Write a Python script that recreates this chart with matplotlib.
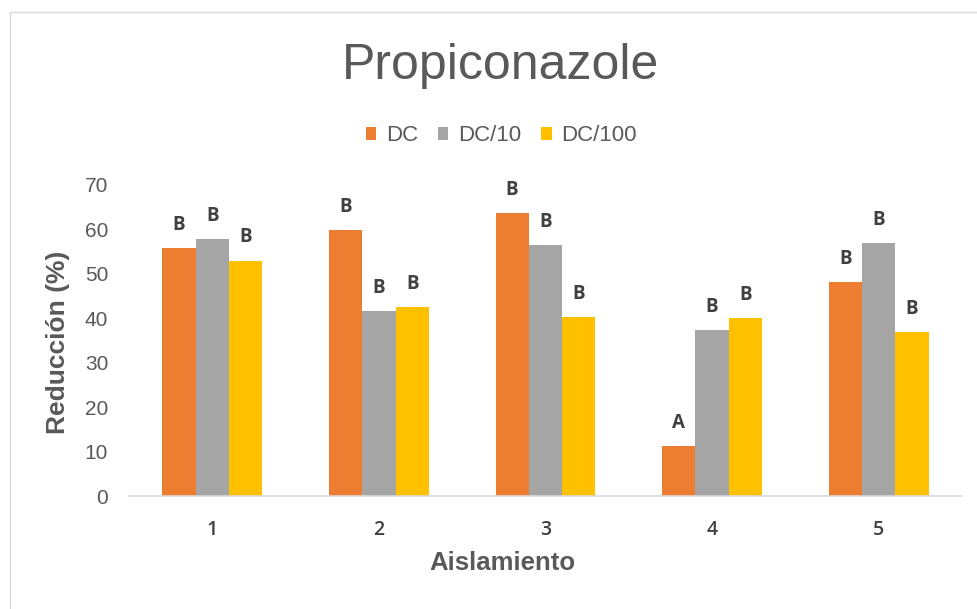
import numpy as np
import matplotlib
matplotlib.use("Agg")
import matplotlib.pyplot as plt
from matplotlib.patches import Rectangle

# Data
aislamientos = ["1", "2", "3", "4", "5"]
series_names = ["DC", "DC/10", "DC/100"]
dc = [55.9, 59.8, 63.7, 11.3, 48.1]
dc10 = [57.8, 41.6, 56.4, 37.3, 56.9]
dc100 = [53.0, 42.5, 40.2, 40.1, 36.9]
letras_dc = ["B", "B", "B", "A", "B"]
letras_dc10 = ["B", "B", "B", "B", "B"]
letras_dc100 = ["B", "B", "B", "B", "B"]
y_ticks = [0, 10, 20, 30, 40, 50, 60, 70]

colors = ["#ED7D31", "#A5A5A5", "#FFC000"]
text_dark = "#595959"
label_dark = "#404040"
main_font = "Liberation Sans"

W, H, DPI = 977, 609, 100
fig = plt.figure(figsize=(W / DPI, H / DPI), dpi=DPI)
fig.patch.set_facecolor("white")

# Light chart-area border
fig.patches.append(Rectangle((10 / W, -0.1), 1.2, (1 - 12 / H) + 0.1,
                             transform=fig.transFigure, fill=False,
                             edgecolor="#d9d9d9", linewidth=1.0))

ax = fig.add_axes([129 / W, (H - 496) / H, 833 / W, (496 - 185) / H])

x = np.arange(len(aislamientos))
width = 0.2
all_series = [dc, dc10, dc100]
all_letters = [letras_dc, letras_dc10, letras_dc100]
handles = []
for i, (vals, letters) in enumerate(zip(all_series, all_letters)):
    pos = x + (i - 1) * width
    bars = ax.bar(pos, vals, width, color=colors[i], label=series_names[i],
                  linewidth=0, zorder=2)
    handles.append(bars)
    for p, v, t in zip(pos, vals, letters):
        ax.annotate(t, (p, v), xytext=(0, 13), textcoords="offset points",
                    ha="center", va="baseline", fontsize=13.5,
                    family="Open Sans", fontweight="bold",
                    color=label_dark)

ax.set_xlim(-0.5, len(aislamientos) - 0.5)
ax.set_ylim(0, 70)
ax.set_yticks(y_ticks)
ax.set_yticklabels([str(t) for t in y_ticks], family=main_font,
                   fontsize=15, color=text_dark)
ax.set_xticks(x)
ax.set_xticklabels(aislamientos, family="Open Sans", fontsize=14,
                   fontweight="semibold", color=label_dark)
ax.tick_params(axis="y", length=0, pad=15)
ax.tick_params(axis="x", length=0, pad=17)

for side in ["top", "right", "left"]:
    ax.spines[side].set_visible(False)
ax.spines["bottom"].set_color("#d9d9d9")
ax.spines["bottom"].set_linewidth(1.2)
ax.spines["bottom"].set_zorder(3)

# Title, legend and axis titles
fig.text(500 / W, 1 - 79 / H, "Propiconazole", ha="center", va="baseline",
         family=main_font, fontsize=36, color=text_dark)

leg = fig.legend(handles=handles, labels=series_names, loc="center",
                 bbox_to_anchor=(501 / W, 1 - 136 / H), ncol=3, frameon=False,
                 prop={"family": main_font, "size": 16},
                 handlelength=0.48, handleheight=0.48, handletextpad=0.42,
                 columnspacing=0.9, borderaxespad=0, borderpad=0)
for t in leg.get_texts():
    t.set_color(text_dark)

fig.text(58 / W, 1 - 342 / H, "Reducción (%)", rotation=90, ha="center",
         va="center", family=main_font, fontsize=19, fontweight="bold",
         color=text_dark)
fig.text(502 / W, 1 - 563 / H, "Aislamiento", ha="center", va="center",
         family=main_font, fontsize=18.5, fontweight="bold", color=text_dark)

fig.savefig("out.png", dpi=DPI, facecolor="white")
